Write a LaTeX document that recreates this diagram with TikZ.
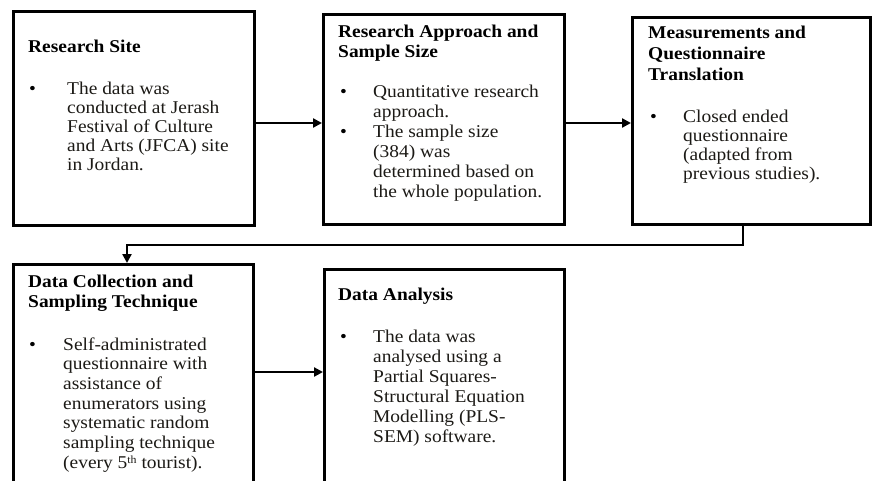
\documentclass[tikz,border=0pt]{standalone}
\usepackage{fontspec}
\setmainfont[FakeStretch=1.08]{Liberation Serif}
\usetikzlibrary{arrows.meta,calc}
\definecolor{ink}{RGB}{28,26,22}
\newcommand{\mylines}[2]{\vtop{\baselineskip=#1pt\lineskiplimit=-\maxdimen\halign{##\hfil\cr#2\crcr}}}
\begin{document}
\begin{tikzpicture}[x=1pt,y=-1pt,
  box/.style={draw=black, line width=2.6pt, inner sep=0pt, anchor=north west, fill=white},
  ttl/.style={font=\bfseries\fontsize{18}{20}\selectfont, anchor=base west, inner sep=0pt, text=black},
  txt/.style={font=\fontsize{18}{20}\selectfont, anchor=base west, inner sep=0pt, text=ink},
  bul/.style={font=\fontsize{18}{20}\selectfont, anchor=base west, inner sep=0pt, text=black},
  arr/.style={line width=2.4pt, -{Triangle[length=9pt,width=9pt]}}]
\useasboundingbox (0,0) rectangle (872,480);
\clip (0,0) rectangle (872,480);
\fill[white] (0,0) rectangle (872,480);

% boxes
\node[box, minimum width=241pt, minimum height=214pt] (b1) at (12,10) {};
\node[box, minimum width=241pt, minimum height=210pt] (b2) at (322,13) {};
\node[box, minimum width=238pt, minimum height=207pt] (b3) at (631,16) {};
\node[box, minimum width=240pt, minimum height=232pt] (b4) at (12,263) {};
\node[box, minimum width=240pt, minimum height=227pt] (b5) at (323,268) {};

% box 1
\node[ttl] (t1) at (28,52) {Research Site};
\node[bul] (u1) at (29,94) {\textbullet};
\node[txt] (x1) at (67,94) {\mylines{19}{The data was\cr conducted at Jerash\cr Festival of Culture\cr and Arts (JFCA) site\cr in Jordan.}};

% box 2
\node[ttl] (t2) at (338,37) {\mylines{20}{Research Approach and\cr Sample Size}};
\node[bul] (u2a) at (340,97) {\textbullet};
\node[bul] (u2b) at (340,137) {\textbullet};
\node[txt] (x2) at (373,97) {\mylines{20}{Quantitative research\cr approach.\cr The sample size\cr (384) was\cr determined based on\cr the whole population.}};

% box 3
\node[ttl] (t3) at (648,38) {\mylines{21}{Measurements and\cr Questionnaire\cr Translation}};
\node[bul] (u3) at (650,122) {\textbullet};
\node[txt] (x3) at (683,122) {\mylines{19.3}{Closed ended\cr questionnaire\cr (adapted from\cr previous studies).}};

% box 4
\node[ttl] (t4) at (28,287) {\mylines{20}{Data Collection and\cr Sampling Technique}};
\node[bul] (u4) at (29,350) {\textbullet};
\node[txt] (x4) at (63,350) {\mylines{19.7}{Self-administrated\cr questionnaire with\cr assistance of\cr enumerators using\cr systematic random\cr sampling technique\cr (every 5{\fontsize{11}{11}\selectfont\raisebox{5pt}{th}} tourist).}};

% box 5
\node[ttl] (t5) at (338,300) {Data Analysis};
\node[bul] (u5) at (340,342) {\textbullet};
\node[txt] (x5) at (373,342) {\mylines{20}{The data was\cr analysed using a\cr Partial Squares-\cr Structural Equation\cr Modelling (PLS-\cr SEM) software.}};

% connectors
\draw[arr] (b1.east |- 0,123) -- (b2.west |- 0,123);
\draw[arr] (b2.east |- 0,123) -- (b3.west |- 0,123);
\coordinate (c1) at (743,245);
\draw[arr] (b3.south -| c1) |- (127,245) -- (b4.north -| 127,0);
\draw[arr] (b4.east |- 0,372) -- (b5.west |- 0,372);
\end{tikzpicture}
\end{document}
